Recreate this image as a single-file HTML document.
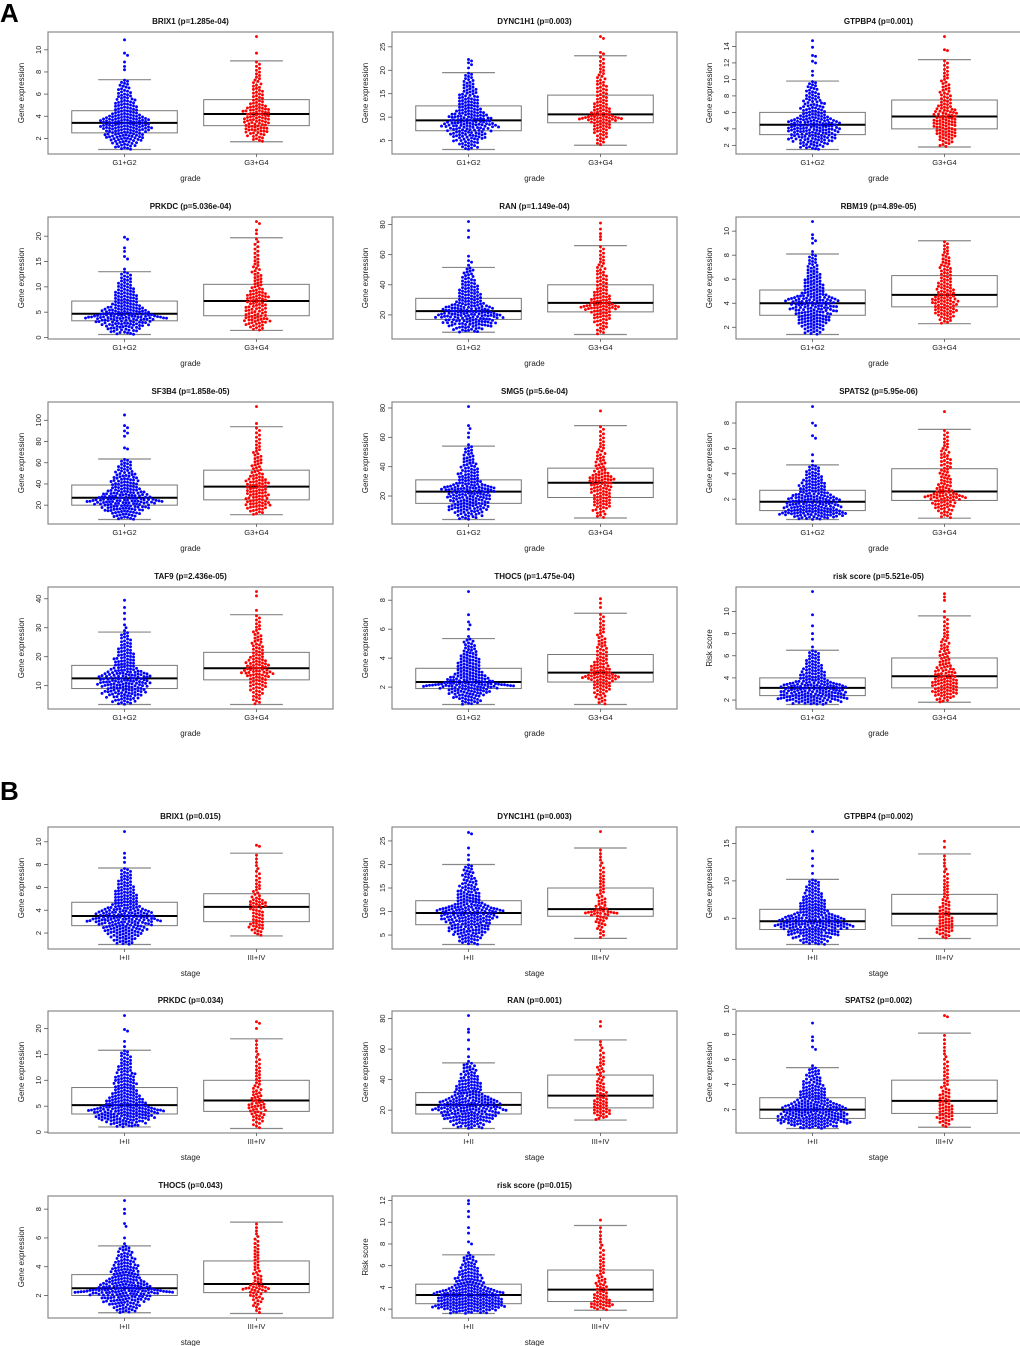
<!DOCTYPE html>
<html><head><meta charset="utf-8"><style>
html,body{margin:0;padding:0;background:#fff;}
svg{display:block;font-family:"Liberation Sans",Arial,sans-serif;}
</style></head><body>
<svg id="fig" width="1020" height="1346" viewBox="0 0 1020 1346" xmlns="http://www.w3.org/2000/svg">
<text x="0" y="22" font-size="26" font-weight="bold">A</text>
<text x="0" y="800" font-size="26" font-weight="bold">B</text>
</svg>
<script>
const panelTitles = ["BRIX1 (p=1.285e-04)","DYNC1H1 (p=0.003)","GTPBP4 (p=0.001)","PRKDC (p=5.036e-04)","RAN (p=1.149e-04)","RBM19 (p=4.89e-05)","SF3B4 (p=1.858e-05)","SMG5 (p=5.6e-04)","SPATS2 (p=5.95e-06)","TAF9 (p=2.436e-05)","THOC5 (p=1.475e-04)","risk score (p=5.521e-05)",
"BRIX1 (p=0.015)","DYNC1H1 (p=0.003)","GTPBP4 (p=0.002)","PRKDC (p=0.034)","RAN (p=0.001)","SPATS2 (p=0.002)","THOC5 (p=0.043)","risk score (p=0.015)"];
const yLabels = ["Gene expression","Gene expression","Gene expression","Gene expression","Gene expression","Gene expression","Gene expression","Gene expression","Gene expression","Gene expression","Gene expression","Risk score",
"Gene expression","Gene expression","Gene expression","Gene expression","Gene expression","Gene expression","Gene expression","Risk score"];
// [lower whisker, q1, median, q3, upper whisker]
const g1Stats = [[1.0,2.5,3.4,4.5,7.3],[3.1,7.1,9.3,12.4,19.5],[1.5,3.3,4.5,6.0,9.8],[0.6,3.3,4.7,7.2,13],[8.5,17,22.5,31,51.5],[1.4,3.0,4.0,5.1,8.1],[6.5,20,27,39,63.5],[4,15,23,31,54],[0.4,1.1,1.8,2.7,4.7],[3.5,9,12.5,17,28.5],[0.8,1.9,2.35,3.3,5.35],[1.6,2.4,3.1,4.0,6.5],
[1.0,2.65,3.5,4.7,7.7],[3,7.2,9.7,12.3,20],[1.5,3.5,4.6,6.2,10.2],[1.0,3.5,5.2,8.6,15.8],[8,17.5,23.5,31.5,51],[0.5,1.3,2.0,2.95,5.35],[0.8,2.0,2.5,3.45,5.45],[1.6,2.5,3.3,4.3,7.0]];
const g2Stats = [[1.7,3.15,4.2,5.5,9.0],[4.0,8.8,10.6,14.7,23.1],[1.8,4.0,5.5,7.5,12.4],[1.4,4.3,7.2,10.5,19.7],[7,22,28,40,66],[2.3,3.7,4.7,6.3,9.2],[11,25,37.5,53,94],[5,19,29,39,68],[0.5,1.9,2.6,4.4,7.5],[3.5,12,16,21.5,34.5],[0.8,2.35,3.0,4.25,7.1],[1.8,3.1,4.15,5.8,9.6],
[1.75,3.0,4.3,5.45,9.0],[4.3,9,10.5,15,23.5],[2.3,4.0,5.6,8.2,13.6],[0.7,4.0,6.1,10,18],[13.5,21.5,29.5,43,66],[0.6,1.7,2.7,4.35,8.1],[0.75,2.2,2.8,4.4,7.1],[1.9,2.7,3.8,5.6,9.7]];
const g1Outliers = [[8.2,8.5,8.9,9.5,9.7,10.9],[20.5,21.2,21.6,22,22.3],[10.5,11,12,12.2,12.8,12.9,13.9,14.7],[13.5,15.5,16,17,17.7,19.4,19.8],[53,55,56,59,71.5,76,82],[8.3,9,9.2,9.4,9.7,10.8],[73,74,85,88,90,93,95,105],[55,60,63,66,68,81],[5,5.5,6.8,7,7.8,8,9.3],[29,30,31,33,35,37,39.5],[5.5,6,6.3,6.5,7,8.6],[6.8,7.5,8,8.7,9.7,11.8],
[8.2,8.6,9,10.9],[21,22,23.5,26.5,26.8],[11,12,13,14,16.6],[16.5,17.5,19.5,19.8,22.5],[52,55,60,66,71,73,82],[5.5,6.8,7,7.5,7.8,8.9],[5.6,6,6.8,7,7.7,8,8.6],[7.2,8,8.2,9,9.5,10.5,11,11.7,12]];
const g2Outliers = [[9.7,11.2],[23.5,23.8,26.8,27.2],[13.5,13.6,15.2],[20.5,21.2,22.5,22.9],[70,72,74,77,81],[],[97,113],[78],[8.9],[36,41,42.5],[7.5,7.8,8.1],[10,11,11.3,11.6],
[9.6,9.7],[27],[14.5,15.3],[20,21,21.3],[75,78],[9.4,9.5],[],[10.2]];
const yTicks = [[2,4,6,8,10],[5,10,15,20,25],[2,4,6,8,10,12,14],[0,5,10,15,20],[20,40,60,80],[2,4,6,8,10],[20,40,60,80,100],[20,40,60,80],[2,4,6,8],[10,20,30,40],[2,4,6,8],[2,4,6,8,10],
[2,4,6,8,10],[5,10,15,20,25],[5,10,15],[0,5,10,15,20],[20,40,60,80],[2,4,6,8,10],[2,4,6,8],[2,4,6,8,10,12]];
const groupCounts = [[205,120],[245,72]];
const groupNames = [["G1+G2","G3+G4","grade"],["I+II","III+IV","stage"]];

const NS="http://www.w3.org/2000/svg";
const svg=document.getElementById('fig');
function mk(tag,attrs,parent){const e=document.createElementNS(NS,tag);for(const k in attrs)e.setAttribute(k,attrs[k]);(parent||svg).appendChild(e);return e;}
const colX=[48,392,736], W=285, H=122;
const rowYA=[32,217,402,587], rowYB=[827,1011,1196];
const D=3.0;

// smooth monotone quantile curve through the five-number summary
function quant(st,p){
  const ps=[0,.25,.5,.75,1];
  const sec=[0,1,2,3].map(i=>(st[i+1]-st[i])/0.25);
  const m=[sec[0]*1.8,(sec[0]+sec[1])/2,(sec[1]+sec[2])/2,(sec[2]+sec[3])/2,sec[3]*1.8];
  for(let i=1;i<4;i++){m[i]=Math.min(m[i],3*sec[i-1],3*sec[i]);}
  for(let i=0;i<4;i++){if(p<=ps[i+1]||i===3){
    const h=0.25,t=(p-ps[i])/h,t2=t*t,t3=t2*t;
    return (2*t3-3*t2+1)*st[i]+(t3-2*t2+t)*h*m[i]+(-2*t3+3*t2)*st[i+1]+(t3-t2)*h*m[i+1];}}
}

function swarm(pys){
  const placed=[];const out=[];
  const order=pys.map((y,i)=>i).sort((a,b)=>pys[a]-pys[b]);
  order.forEach(i=>{const y=pys[i];
    const near=placed.filter(p=>Math.abs(p[1]-y)<D);
    let best=0;
    for(let s=0;s<300;s++){
      const cand=s===0?0:(s%2?1:-1)*Math.ceil(s/2)*D*0.5;
      if(near.every(p=>{const dx=p[0]-cand,dy=p[1]-y;return dx*dx+dy*dy>=D*D*0.98;})){best=cand;break;}
    }
    placed.push([best,y]);out[i]=best;});
  return out;
}

for(let i=0;i<20;i++){
  const sec=i<12?0:1, k=sec?i-12:i;
  const x0=colX[k%3], y0=sec?rowYB[Math.floor(k/3)]:rowYA[Math.floor(k/3)];
  const g=mk('g',{});
  
  
  const s1=g1Stats[i], s2=g2Stats[i];
  const dmin=Math.min(s1[0],s2[0]);
  const dmax=Math.max(s1[4],s2[4],...g1Outliers[i],...g2Outliers[i]);
  const r=dmax-dmin, lo=dmin-0.04*r, hi=dmax+0.04*r;
  const ys=v=>y0+H-(v-lo)/(hi-lo)*H;
  const xs=v=>x0+(v-0.42)/2.16*W;
  const t=mk('text',{x:x0+W/2,y:y0-8,'font-size':8,'font-weight':'bold','text-anchor':'middle',fill:'#111'},g);t.textContent=panelTitles[i];
  
  const fr=mk('rect',{x:x0,y:y0,width:W,height:H,fill:'none',stroke:'#888','stroke-width':1.2},g);
  
  yTicks[i].forEach(v=>{const yy=ys(v);
    mk('line',{x1:x0-4,x2:x0,y1:yy,y2:yy,stroke:'#555','stroke-width':0.8},g);
    const tt=mk('text',{x:x0-7,y:yy,'font-size':7.5,'text-anchor':'middle',fill:'#222',transform:`rotate(-90 ${x0-7} ${yy})`},g);tt.textContent=v;
    });
  const yl=mk('text',{x:x0-24,y:y0+H/2,'font-size':8,'text-anchor':'middle',fill:'#222',transform:`rotate(-90 ${x0-24} ${y0+H/2})`},g);yl.textContent=yLabels[i];
  
  const gn=groupNames[sec];
  [0,1].forEach(j=>{const cx=xs(j+1);
    mk('line',{x1:cx,x2:cx,y1:y0+H,y2:y0+H+3,stroke:'#555','stroke-width':0.8},g);
    const xl=mk('text',{x:cx,y:y0+H+11,'font-size':7.5,'text-anchor':'middle',fill:'#222'},g);xl.textContent=gn[j];
    });
  const xt=mk('text',{x:x0+W/2,y:y0+H+27,'font-size':8,'text-anchor':'middle',fill:'#222'},g);xt.textContent=gn[2];
  
  [[s1,g1Outliers[i],'#0000ff',groupCounts[sec][0]],[s2,g2Outliers[i],'#ff0000',groupCounts[sec][1]]].forEach((grp,j)=>{
    const st=grp[0], cx=xs(j+1), hw=0.4/2.16*W;
    const b=mk('rect',{x:cx-hw,y:ys(st[3]),width:2*hw,height:ys(st[1])-ys(st[3]),fill:'none',stroke:'#777','stroke-width':1},g);
    
    mk('line',{x1:cx,x2:cx,y1:ys(st[3]),y2:ys(st[4]),stroke:'#888','stroke-dasharray':'2,2','stroke-width':0.8},g);
    mk('line',{x1:cx,x2:cx,y1:ys(st[1]),y2:ys(st[0]),stroke:'#888','stroke-dasharray':'2,2','stroke-width':0.8},g);
    mk('line',{x1:cx-hw/2,x2:cx+hw/2,y1:ys(st[4]),y2:ys(st[4]),stroke:'#888','stroke-width':1.2},g);
    mk('line',{x1:cx-hw/2,x2:cx+hw/2,y1:ys(st[0]),y2:ys(st[0]),stroke:'#888','stroke-width':1.2},g);
    const md=mk('line',{x1:cx-hw,x2:cx+hw,y1:ys(st[2]),y2:ys(st[2]),stroke:'#000','stroke-width':2},g);
    
    const n=grp[3], vals=[];
    for(let q=0;q<n;q++)vals.push(quant(st,(q+0.5)/n));
    grp[1].forEach(v=>vals.push(v));
    const pys=vals.map(ys);
    const offs=swarm(pys);
    const pg=mk('g',{fill:grp[2]},g);
    
    pys.forEach((py,m)=>{mk('circle',{cx:cx+offs[m],cy:py,r:1.45},pg);});
  });
}
</script>
</body></html>
